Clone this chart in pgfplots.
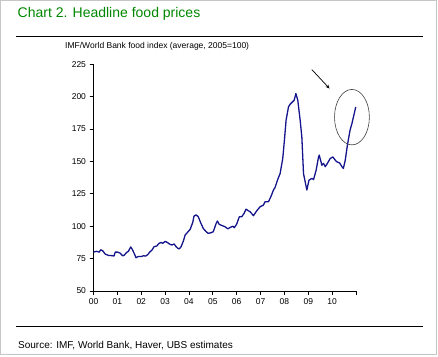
\documentclass[border=0pt]{standalone}
\usepackage{pgfplots}
\pgfplotsset{compat=1.18}
\usepackage{fontspec}
\setmainfont{Liberation Sans}
\usetikzlibrary{arrows.meta}
\definecolor{titlegreen}{RGB}{0,135,0}
\definecolor{navy}{RGB}{20,20,140}
\begin{document}
\begin{tikzpicture}[x=1pt,y=1pt]
\path[use as bounding box] (0,0) rectangle (438,356);
\draw[gray!45, line width=1pt] (0.5,2) rectangle (436,355.5);
\node[anchor=base west, text=titlegreen, font=\fontsize{14}{16}\selectfont, inner sep=0] at (17.5,338.7) {Chart 2. Headline food prices};
\draw[black, line width=0.9pt] (16,320) -- (423,320);
\node[anchor=base west, font=\fontsize{8.5}{10}\selectfont, inner sep=0] at (65,307) {IMF/World Bank food index (average, 2005=100)};
\draw[black, line width=0.9pt] (16,30) -- (423,30);
\node[anchor=base west, font=\fontsize{10}{12}\selectfont, inner sep=0] at (18,7.7) {Source: IMF, World Bank, Haver, UBS estimates};
\begin{axis}[
  at={(93.5pt,65pt)}, anchor=south west,
  scale only axis, width=262.5pt, height=226.7pt,
  xmin=0, xmax=11, ymin=50, ymax=225,
  axis x line*=bottom, axis y line*=left,
  axis line style={line width=0.8pt, -},
  xtick={0,1,2,3,4,5,6,7,8,9,10,11},
  xticklabels={00,01,02,03,04,05,06,07,08,09,10,{}},
  ytick={50,75,100,125,150,175,200,225},
  tick align=outside, major tick length=4pt,
  tick style={black, line width=0.8pt},
  tick label style={font=\fontsize{8.5}{10}\selectfont},
  /pgf/number format/assume math mode=true,
  clip=false,
]
\addplot[navy, line width=1.3pt, line join=round] table {
t v
0.00 80.1
0.13 80.6
0.24 80.0
0.30 81.8
0.39 81.0
0.49 78.5
0.62 77.5
0.76 77.3
0.86 77.0
0.91 80.0
1.01 80.0
1.11 79.3
1.22 77.2
1.28 77.5
1.39 79.8
1.46 80.6
1.56 84.0
1.63 82.0
1.73 78.0
1.78 75.7
1.88 76.7
2.02 76.7
2.09 77.2
2.19 77.0
2.27 78.0
2.37 80.3
2.45 81.6
2.54 84.2
2.65 84.7
2.75 86.8
2.83 87.5
2.90 86.8
3.00 88.3
3.11 87.3
3.18 86.3
3.28 85.5
3.38 86.3
3.46 84.2
3.56 82.6
3.60 82.6
3.67 84.2
3.77 88.8
3.84 93.2
3.95 95.5
4.05 97.6
4.16 103.0
4.21 107.8
4.30 108.8
4.39 107.3
4.49 102.7
4.60 98.3
4.72 95.8
4.81 94.5
4.93 95.0
5.02 95.8
5.14 102.2
5.19 104.0
5.27 101.4
5.42 100.3
5.51 99.6
5.63 98.0
5.72 99.0
5.84 100.0
5.90 98.9
6.00 101.6
6.11 107.3
6.21 107.3
6.31 109.9
6.39 113.2
6.49 111.9
6.56 111.3
6.70 108.1
6.84 111.9
6.98 115.0
7.12 116.3
7.19 118.9
7.33 118.9
7.43 122.7
7.54 127.9
7.61 130.0
7.71 135.6
7.82 140.7
7.93 152.3
8.00 166.4
8.07 181.8
8.17 192.1
8.24 194.2
8.34 196.0
8.41 197.3
8.48 202.4
8.56 197.3
8.66 181.8
8.73 169.0
8.80 140.7
8.87 134.3
8.94 127.9
9.03 135.6
9.15 136.9
9.22 136.0
9.33 143.3
9.43 153.5
9.46 154.9
9.57 147.1
9.64 148.5
9.71 146.0
9.80 148.5
9.92 152.3
10.03 153.5
10.13 151.0
10.20 149.7
10.31 148.9
10.41 146.0
10.47 144.6
10.55 151.0
10.64 162.6
10.75 174.1
10.83 179.3
10.99 192.1
};
\draw[black!75, line width=0.6pt] (axis cs:10.83,184.2) ellipse [x radius=0.73, y radius=21.4];
\draw[-{Stealth[length=4pt,width=3.5pt]}, line width=0.7pt] (axis cs:9.15,220.9) -- (axis cs:9.89,206.3);
\end{axis}
\end{tikzpicture}
\end{document}
